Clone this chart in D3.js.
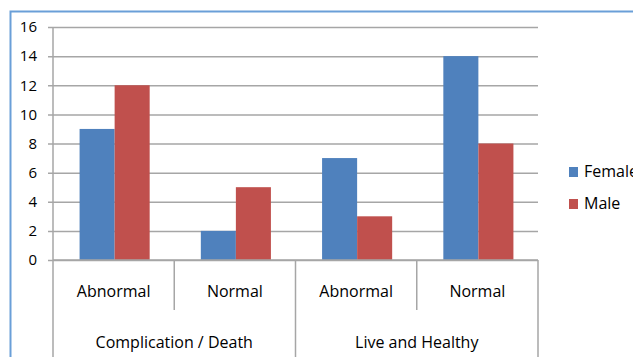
<!DOCTYPE html>
<html>
<head>
<meta charset="utf-8">
<script src="https://cdn.jsdelivr.net/npm/d3@7"></script>
<style>
  html, body { margin: 0; padding: 0; background: #fff; }
  svg { display: block; }
  text { font-family: "Open Sans", "Noto Sans", sans-serif; fill: #000; }
</style>
</head>
<body>
<svg id="chart" width="633" height="357"></svg>
<script>
// Outcome groups and the sub-categories inside each
const groups = ["Complication / Death", "Live and Healthy"];
const subCategories = ["Abnormal", "Normal"];
const categories = [
  ["Complication / Death", "Abnormal"],
  ["Complication / Death", "Normal"],
  ["Live and Healthy", "Abnormal"],
  ["Live and Healthy", "Normal"]
];
const seriesNames = ["Female", "Male"];
const femaleValues = [9, 2, 7, 14];
const maleValues = [12, 5, 3, 8];
const yTicks = [0, 2, 4, 6, 8, 10, 12, 14, 16];

const colors = { Female: "#4F81BD", Male: "#C0504D" };

const svg = d3.select("#chart");

// Outer chart frame
svg.append("rect")
  .attr("x", 10.5).attr("y", 11.5)
  .attr("width", 700).attr("height", 400)
  .attr("fill", "#fff")
  .attr("stroke", "#6A9FD8").attr("stroke-width", 2);

const plot = { left: 53, right: 538, top: 27, bottom: 260 };

const y = d3.scaleLinear().domain([0, 16]).range([plot.bottom, plot.top]);
const x0 = d3.scaleBand()
  .domain(categories.map((c, i) => i))
  .range([plot.left, plot.right])
  .paddingInner(0).paddingOuter(0);
const x1 = d3.scaleBand()
  .domain(seriesNames)
  .range([0, x0.bandwidth()])
  .paddingOuter(0.73).paddingInner(0);

// Horizontal gridlines with axis tick labels
const yAxis = d3.axisLeft(y)
  .tickValues(yTicks)
  .tickSize(-(plot.right - plot.left + 5))
  .tickPadding(10)
  .tickFormat(d3.format("d"));

const gy = svg.append("g")
  .attr("transform", `translate(${plot.left - 5},0)`)
  .call(yAxis);
gy.select(".domain").remove();
gy.selectAll(".tick line").attr("stroke", "#A6A6A6").attr("stroke-width", 1.5);
gy.selectAll(".tick text")
  .attr("font-size", 15)
  .attr("x", -11)
  .attr("text-anchor", "end");

// Vertical axis line
svg.append("line")
  .attr("x1", plot.left).attr("x2", plot.left)
  .attr("y1", plot.top).attr("y2", plot.bottom)
  .attr("stroke", "#A6A6A6").attr("stroke-width", 1.5);

// Bars
const data = categories.map((c, i) => ({
  i, Female: femaleValues[i], Male: maleValues[i]
}));

const barGroups = svg.append("g").selectAll("g")
  .data(data).join("g")
  .attr("transform", d => `translate(${x0(d.i) + 1},0)`);

barGroups.selectAll("rect")
  .data(d => seriesNames.map(s => ({ s, v: d[s] })))
  .join("rect")
  .attr("x", d => x1(d.s))
  .attr("y", d => y(d.v))
  .attr("width", x1.bandwidth())
  .attr("height", d => y(0) - y(d.v))
  .attr("fill", d => colors[d.s]);

// Category axis: baseline, separators and labels
const axisG = svg.append("g");
axisG.append("line")
  .attr("x1", plot.left).attr("x2", plot.right)
  .attr("y1", plot.bottom).attr("y2", plot.bottom)
  .attr("stroke", "#A6A6A6").attr("stroke-width", 1.5);

const boundaries = d3.range(categories.length + 1);
axisG.selectAll("line.sep")
  .data(boundaries).join("line")
  .attr("class", "sep")
  .attr("x1", i => i < categories.length ? x0(i) : plot.right)
  .attr("x2", i => i < categories.length ? x0(i) : plot.right)
  .attr("y1", plot.bottom)
  .attr("y2", i => (i % subCategories.length === 0) ? 357 : 310)
  .attr("stroke", "#A6A6A6").attr("stroke-width", 1.5);

axisG.selectAll("text.sub")
  .data(categories).join("text")
  .attr("class", "sub")
  .attr("x", (c, i) => x0(i) + x0.bandwidth() / 2)
  .attr("y", 297)
  .attr("text-anchor", "middle")
  .attr("font-size", 16)
  .text(c => c[1]);

axisG.selectAll("text.grp")
  .data(groups).join("text")
  .attr("class", "grp")
  .attr("x", (g, gi) => x0(gi * subCategories.length) + x0.bandwidth() * subCategories.length / 2)
  .attr("y", 348)
  .attr("text-anchor", "middle")
  .attr("font-size", 16)
  .text(g => g);

// Legend
const legend = svg.append("g").attr("transform", "translate(569,167)");
const li = legend.selectAll("g").data(seriesNames).join("g")
  .attr("transform", (d, i) => `translate(0,${i * 32})`);
li.append("rect")
  .attr("width", 9).attr("height", 10)
  .attr("fill", d => colors[d]);
li.append("text")
  .attr("x", 15).attr("y", 10)
  .attr("font-size", 16)
  .text(d => d);
</script>
</body>
</html>
